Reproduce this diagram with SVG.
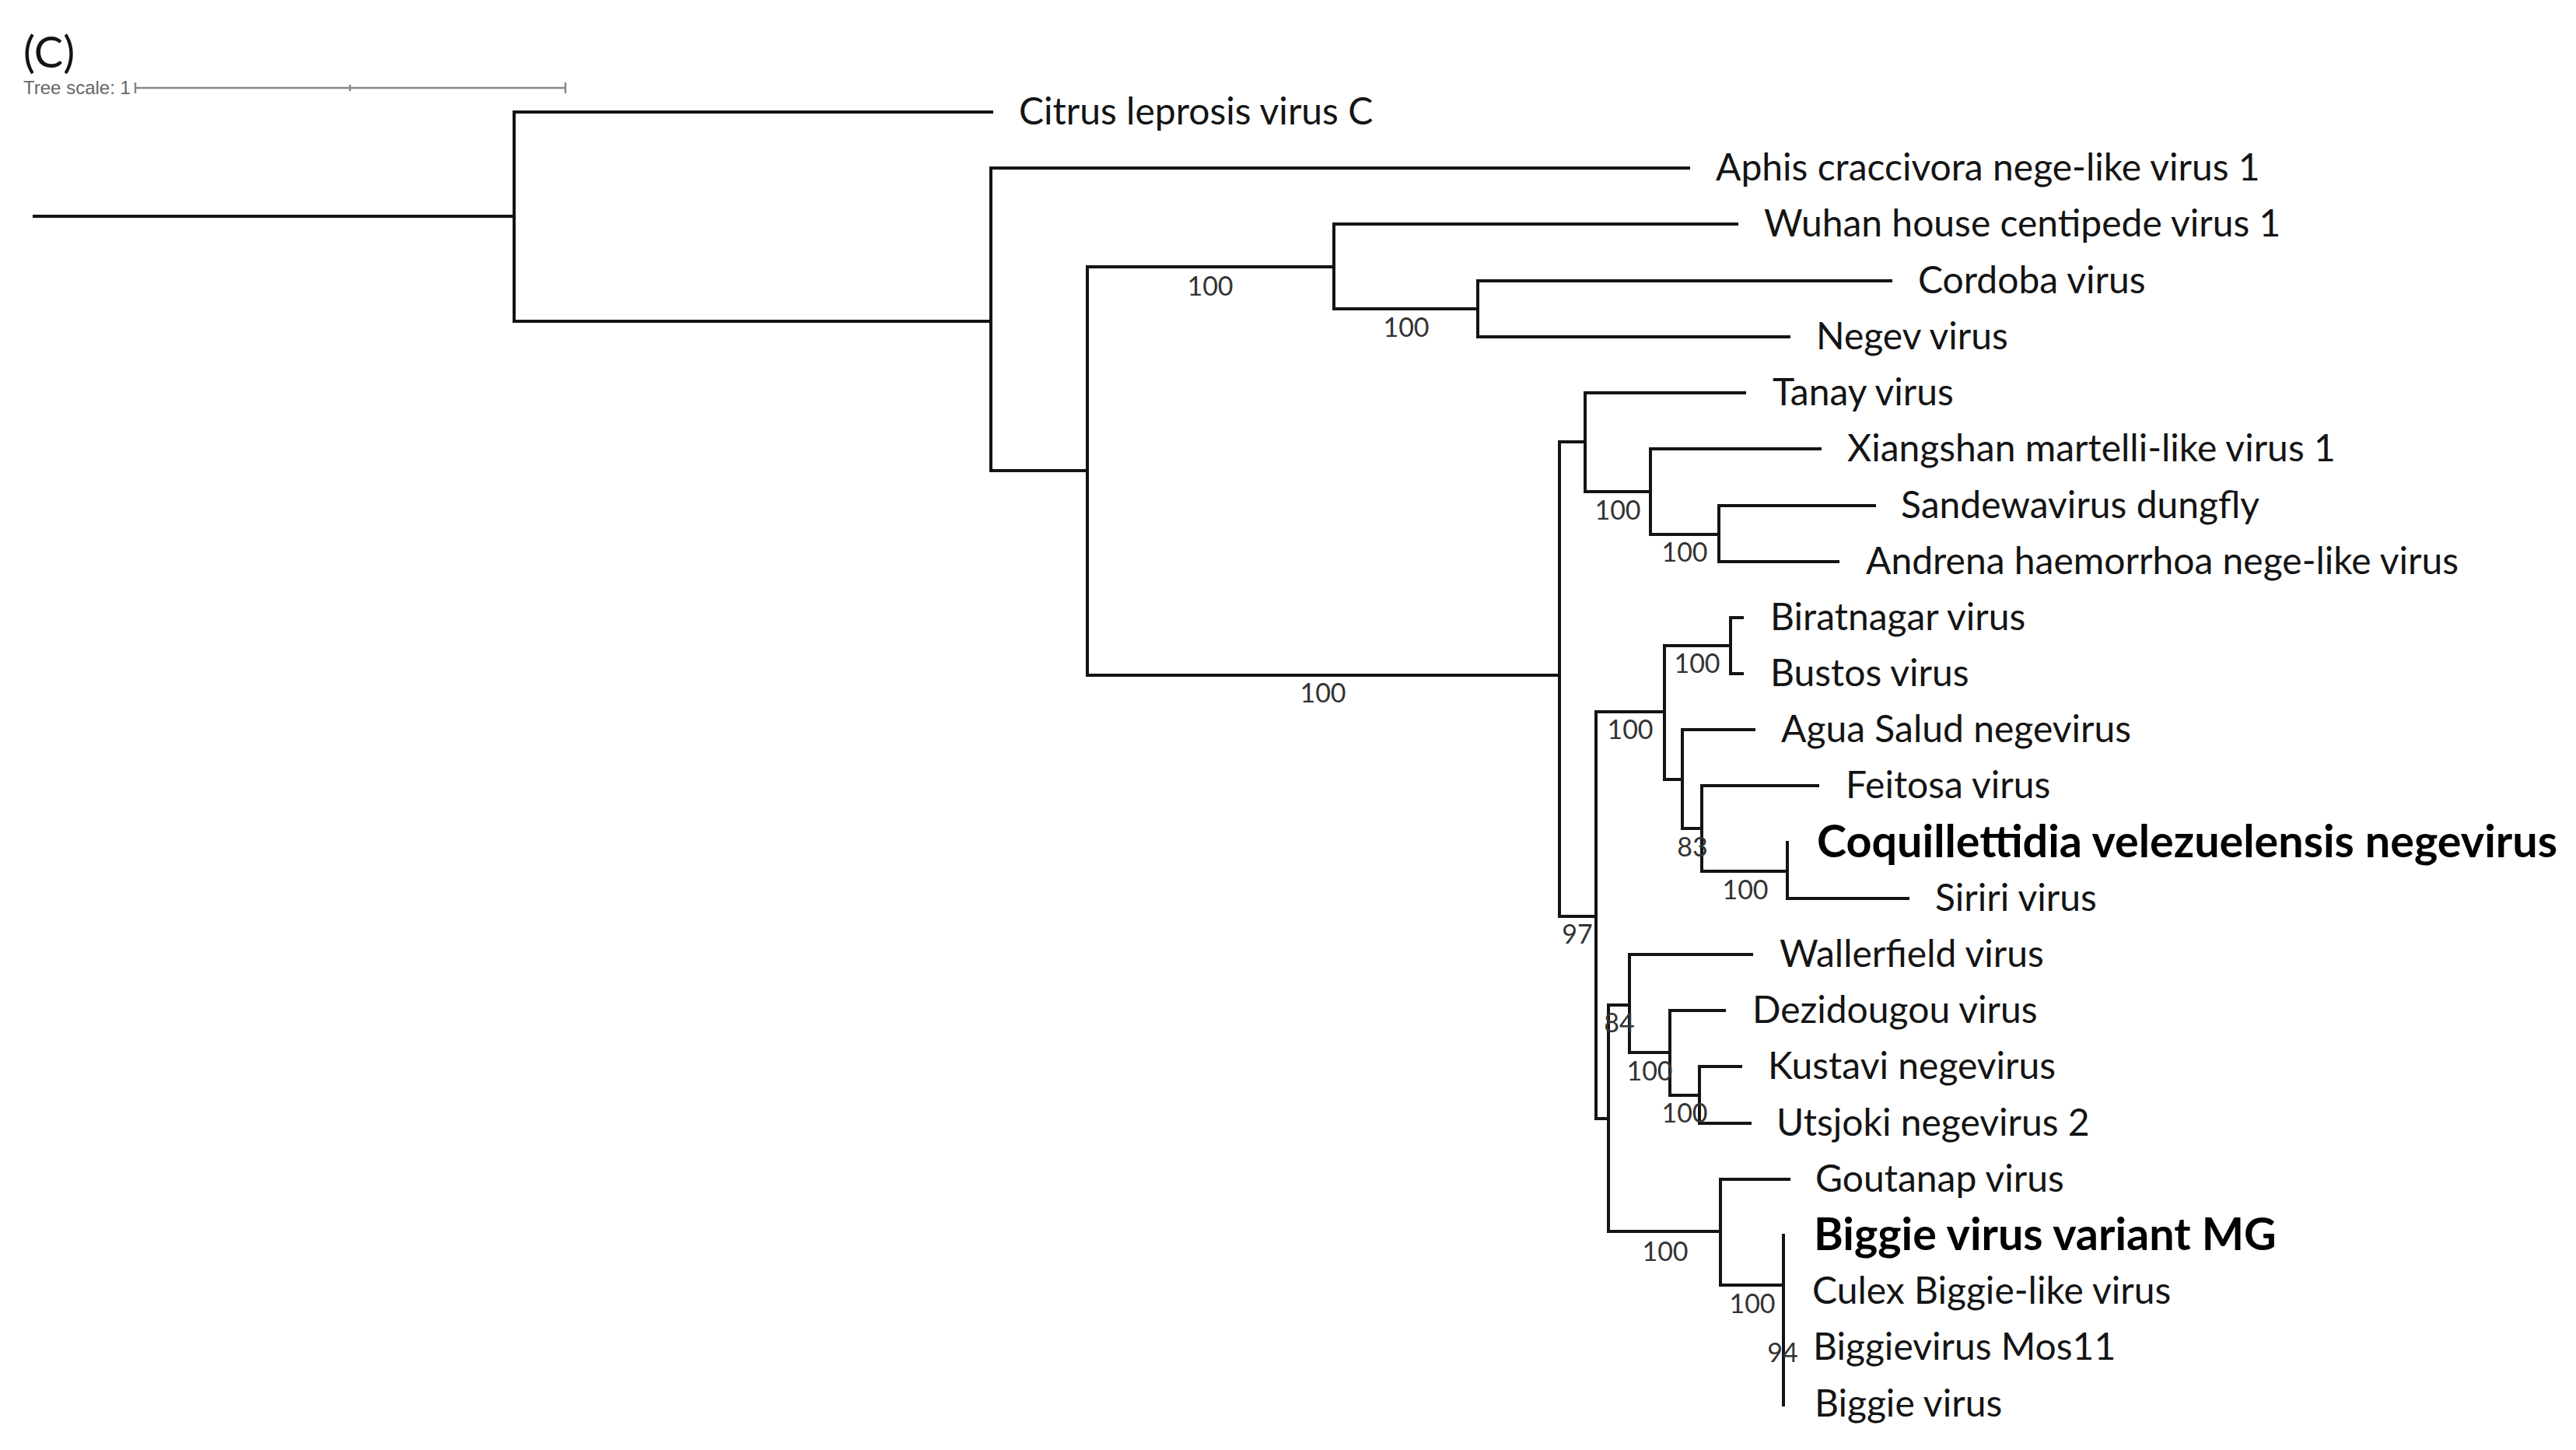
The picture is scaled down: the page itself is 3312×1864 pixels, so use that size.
<svg xmlns="http://www.w3.org/2000/svg" width="3312" height="1864" viewBox="0 0 3312 1864">
<style>
.br{stroke:#141414;stroke-width:4;fill:none;stroke-linecap:square}
.lab{font-family:Lato,"Liberation Sans",sans-serif;font-size:48px;fill:#141414}
.bold{font-weight:bold;font-size:57.5px;fill:#000}
.bs{font-family:Lato,"Liberation Sans",sans-serif;font-size:34px;fill:#333;text-anchor:middle}
.sc{stroke:#888;stroke-width:2.5;fill:none}
</style>
<rect width="3312" height="1864" fill="#fff"/>
<text x="30" y="87" font-family="Lato,'Liberation Sans',sans-serif" font-size="56" fill="#141414">(C)</text>
<g id="scale">
<text x="30" y="121" font-family="'Liberation Sans',Arial,sans-serif" font-size="24" fill="#666">Tree scale: 1</text>
<path class="sc" d="M174,113 H727 M174,106 V120 M450,109 V117 M727,106 V120"/>
</g>
<g id="connectors">
<path class="br" d="M44,278 H661 M661,144 V413 M661,144 H1275 M661,413 H1274
M1274,216 V605 M1274,216 H2171 M1274,605 H1398
M1398,343 V868 M1398,343 H1715
M1715,288 V397 M1715,288 H2233 M1715,397 H1900
M1900,361 V433 M1900,361 H2431 M1900,433 H2300
M1398,868 H2005
M2005,568 V1178 M2005,568 H2038
M2038,505 V632 M2038,505 H2243 M2038,632 H2122
M2122,577 V687 M2122,577 H2340 M2122,687 H2210
M2210,650 V722 M2210,650 H2410 M2210,722 H2363
M2005,1178 H2052
M2052,915 V1438 M2052,915 H2140
M2140,830 V1002 M2140,830 H2225
M2225,794 V866 M2225,794 H2240 M2225,866 H2240
M2140,1002 H2163
M2163,938 V1065 M2163,938 H2255 M2163,1065 H2188
M2188,1010 V1120 M2188,1010 H2337 M2188,1120 H2298
M2298,1083 V1155 M2298,1155 H2453
M2052,1438 H2068
M2068,1292 V1583 M2068,1292 H2095
M2095,1227 V1353 M2095,1227 H2252 M2095,1353 H2147
M2147,1299 V1408 M2147,1299 H2217 M2147,1408 H2185
M2185,1371 V1444 M2185,1371 H2238 M2185,1444 H2250
M2068,1583 H2212
M2212,1516 V1652 M2212,1516 H2300 M2212,1652 H2293
M2293,1588 V1806"/>
<g id="support">
<text class="bs" x="1556" y="380">100</text>
<text class="bs" x="1808" y="433">100</text>
<text class="bs" x="1701" y="903">100</text>
<text class="bs" x="2080" y="668">100</text>
<text class="bs" x="2166" y="722">100</text>
<text class="bs" x="2028" y="1213">97</text>
<text class="bs" x="2096" y="950">100</text>
<text class="bs" x="2182" y="865">100</text>
<text class="bs" x="2176" y="1101">83</text>
<text class="bs" x="2244" y="1156">100</text>
<text class="bs" x="2082" y="1327">84</text>
<text class="bs" x="2121" y="1389">100</text>
<text class="bs" x="2166" y="1443">100</text>
<text class="bs" x="2141" y="1621">100</text>
<text class="bs" x="2253" y="1688">100</text>
<text class="bs" x="2292" y="1751">94</text>
</g>
</g>
<g id="leaf-citrus"><text class="lab" x="1310" y="160">Citrus leprosis virus C</text></g>
<g id="leaf-aphis"><text class="lab" x="2206" y="232">Aphis craccivora nege-like virus 1</text></g>
<g id="leaf-wuhan"><text class="lab" x="2268" y="304">Wuhan house centipede virus 1</text></g>
<g id="leaf-cordoba"><text class="lab" x="2466" y="377">Cordoba virus</text></g>
<g id="leaf-negev"><text class="lab" x="2335" y="449">Negev virus</text></g>
<g id="leaf-tanay"><text class="lab" x="2279" y="521">Tanay virus</text></g>
<g id="leaf-xiangshan"><text class="lab" x="2375" y="593">Xiangshan martelli-like virus 1</text></g>
<g id="leaf-sandewa"><text class="lab" x="2444" y="666">Sandewavirus dungfly</text></g>
<g id="leaf-andrena"><text class="lab" x="2399" y="738">Andrena haemorrhoa nege-like virus</text></g>
<g id="leaf-biratnagar"><text class="lab" x="2276" y="810">Biratnagar virus</text></g>
<g id="leaf-bustos"><text class="lab" x="2276" y="882">Bustos virus</text></g>
<g id="leaf-agua"><text class="lab" x="2290" y="954">Agua Salud negevirus</text></g>
<g id="leaf-feitosa"><text class="lab" x="2373" y="1026">Feitosa virus</text></g>
<g id="leaf-coquillettidia"><text class="lab bold" x="2336" y="1102">Coquillettidia velezuelensis negevirus</text></g>
<g id="leaf-siriri"><text class="lab" x="2488" y="1171">Siriri virus</text></g>
<g id="leaf-wallerfield"><text class="lab" x="2288" y="1243">Wallerfield virus</text></g>
<g id="leaf-dezidougou"><text class="lab" x="2253" y="1315">Dezidougou virus</text></g>
<g id="leaf-kustavi"><text class="lab" x="2273" y="1387">Kustavi negevirus</text></g>
<g id="leaf-utsjoki"><text class="lab" x="2284" y="1460">Utsjoki negevirus 2</text></g>
<g id="leaf-goutanap"><text class="lab" x="2334" y="1532">Goutanap virus</text></g>
<g id="leaf-biggie-mg"><text class="lab bold" x="2332" y="1607">Biggie virus variant MG</text></g>
<g id="leaf-culex"><text class="lab" x="2330" y="1676">Culex Biggie-like virus</text></g>
<g id="leaf-mos11"><text class="lab" x="2331" y="1748">Biggievirus Mos11</text></g>
<g id="leaf-biggie"><text class="lab" x="2333" y="1821">Biggie virus</text></g>
</svg>
